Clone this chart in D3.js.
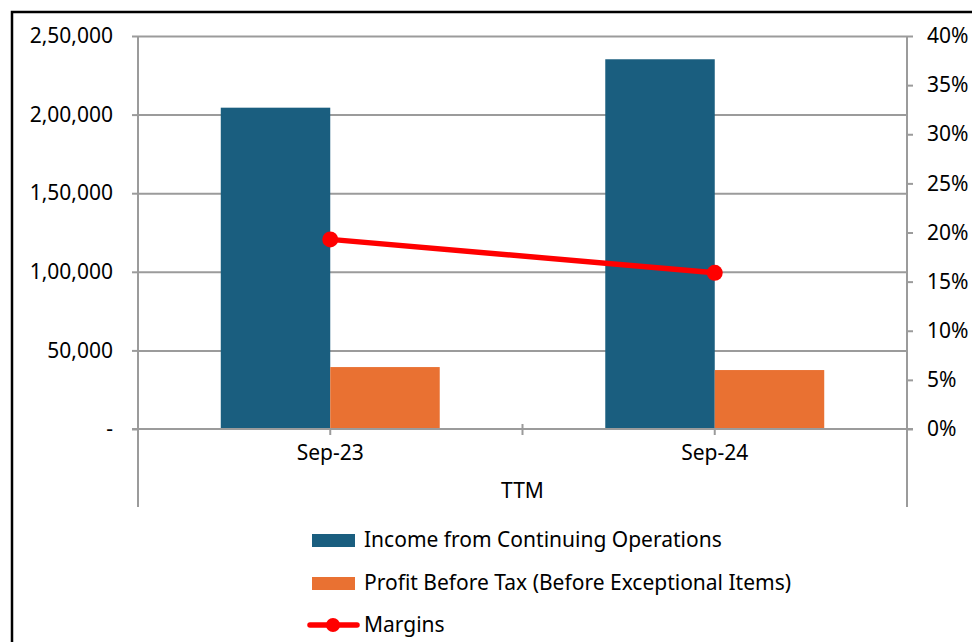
<!DOCTYPE html>
<html>
<head>
<meta charset="utf-8">
<script src="https://cdn.jsdelivr.net/npm/d3@7"></script>
<style>
  body { margin: 0; background: #fff; }
  svg { display: block; }
  .axis text, .lbl { font-family: "Noto Sans", sans-serif; font-size: 21px; fill: #000; }
  .legend text { font-family: "Noto Sans", sans-serif; font-size: 21px; fill: #000; }
</style>
</head>
<body>
<svg id="chart"></svg>
<script>
// data
var categories = ["Sep-23", "Sep-24"];
var income = [204400, 235200];   // Income from Continuing Operations
var pbt = [39400, 37500];        // Profit Before Tax (Before Exceptional Items)
var margins = [0.193, 0.159];    // Margins (right axis)
var seriesNames = ["Income from Continuing Operations", "Profit Before Tax (Before Exceptional Items)", "Margins"];
var leftTicks = [0, 50000, 100000, 150000, 200000, 250000];
var leftTickLabels = ["-", "50,000", "1,00,000", "1,50,000", "2,00,000", "2,50,000"];
var rightTicks = [0, 0.05, 0.10, 0.15, 0.20, 0.25, 0.30, 0.35, 0.40];
var rightTickLabels = ["0%", "5%", "10%", "15%", "20%", "25%", "30%", "35%", "40%"];
var groupLabel = "TTM";

var W = 972, H = 642;
var pLeft = 138, pRight = 907, pTop = 36, pBottom = 429;
var colors = ["#1a5e7f", "#e97132", "#ff0000"];
var gridCol = "#9b9b9b";

var svg = d3.select("#chart").attr("width", W).attr("height", H);

// outer frame (only top & left show)
svg.append("path")
  .attr("d", "M12," + H + "V12H" + W)
  .attr("fill", "none").attr("stroke", "#000").attr("stroke-width", 2.5);

var x = d3.scaleBand().domain(categories).range([pLeft, pRight]);
var xs = d3.scaleBand().domain([0, 1]).range([0, x.bandwidth()]).paddingOuter(0.756);
var yL = d3.scaleLinear().domain([0, 250000]).range([pBottom, pTop]);
var yR = d3.scaleLinear().domain([0, 0.4]).range([pBottom, pTop]);

// gridlines
svg.append("g").attr("transform", "translate(" + pLeft + ",0)")
  .call(d3.axisLeft(yL).tickValues(leftTicks.slice(1)).tickSize(-(pRight - pLeft)).tickFormat(""))
  .call(function(g) { g.select(".domain").remove(); })
  .selectAll("line").attr("stroke", gridCol).attr("stroke-width", 2);

// bars
var barData = [];
categories.forEach(function(c, i) {
  barData.push({ c: c, s: 0, v: income[i] });
  barData.push({ c: c, s: 1, v: pbt[i] });
});
svg.append("g").selectAll("rect").data(barData).enter().append("rect")
  .attr("x", function(d) { return x(d.c) + xs(d.s); })
  .attr("width", xs.bandwidth())
  .attr("y", function(d) { return yL(d.v); })
  .attr("height", function(d) { return yL(0) - yL(d.v); })
  .attr("fill", function(d) { return colors[d.s]; });

// left axis
var gl = svg.append("g").attr("class", "axis").attr("transform", "translate(" + pLeft + ",0)")
  .call(d3.axisLeft(yL).tickValues(leftTicks).tickSize(6).tickPadding(19)
    .tickFormat(function(d, i) { return leftTickLabels[i]; }));
gl.select(".domain").remove();
gl.selectAll("line").attr("stroke", gridCol).attr("stroke-width", 2);
gl.selectAll("text").attr("font-family", null).attr("font-size", null);
svg.append("line").attr("x1", pLeft).attr("x2", pLeft).attr("y1", pTop).attr("y2", 507)
  .attr("stroke", gridCol).attr("stroke-width", 2);

// right axis
var gr = svg.append("g").attr("class", "axis").attr("transform", "translate(" + pRight + ",0)")
  .call(d3.axisRight(yR).tickValues(rightTicks).tickSize(6).tickPadding(14)
    .tickFormat(function(d, i) { return rightTickLabels[i]; }));
gr.select(".domain").remove();
gr.selectAll("line").attr("stroke", gridCol).attr("stroke-width", 2);
svg.append("line").attr("x1", pRight).attr("x2", pRight).attr("y1", pTop).attr("y2", 507)
  .attr("stroke", gridCol).attr("stroke-width", 2);

// category axis
var gx = svg.append("g").attr("class", "axis").attr("transform", "translate(0," + pBottom + ")")
  .call(d3.axisBottom(x).tickSize(6).tickPadding(10).tickSizeOuter(0));
gx.select(".domain").remove();
gx.selectAll("line").attr("stroke", gridCol).attr("stroke-width", 2);
svg.append("line").attr("x1", pLeft - 6).attr("x2", pRight + 6).attr("y1", pBottom).attr("y2", pBottom)
  .attr("stroke", gridCol).attr("stroke-width", 2);
// divider ticks between categories
svg.append("g").selectAll("line").data(categories.slice(1)).enter().append("line")
  .attr("x1", function(d) { return x(d); }).attr("x2", function(d) { return x(d); })
  .attr("y1", pBottom - 5).attr("y2", pBottom + 6)
  .attr("stroke", gridCol).attr("stroke-width", 2);
svg.append("text").attr("class", "lbl")
  .attr("x", (pLeft + pRight) / 2).attr("y", 498)
  .attr("text-anchor", "middle")
  .text(groupLabel);

// margins line
var line = d3.line()
  .x(function(d, i) { return x(categories[i]) + x.bandwidth() / 2; })
  .y(function(d) { return yR(d); });
svg.append("path").datum(margins).attr("d", line)
  .attr("fill", "none").attr("stroke", colors[2]).attr("stroke-width", 5.5);
svg.append("g").selectAll("circle").data(margins).enter().append("circle")
  .attr("cx", function(d, i) { return x(categories[i]) + x.bandwidth() / 2; })
  .attr("cy", function(d) { return yR(d); })
  .attr("r", 8).attr("fill", colors[2]);

// legend
var lg = svg.append("g").attr("class", "legend");
var rows = [547, 590, 632];
seriesNames.forEach(function(n, i) {
  var g = lg.append("g").attr("transform", "translate(0," + rows[i] + ")");
  if (i < 2) {
    g.append("rect").attr("x", 312).attr("y", -13).attr("width", 43).attr("height", 13).attr("fill", colors[i]);
  } else {
    g.append("line").attr("x1", 310).attr("x2", 357).attr("y1", -7).attr("y2", -7)
      .attr("stroke", colors[2]).attr("stroke-width", 5.5).attr("stroke-linecap", "round");
    g.append("circle").attr("cx", 333).attr("cy", -7).attr("r", 7).attr("fill", colors[2]);
  }
  g.append("text").attr("x", 364).attr("y", 0).text(n);
});
</script>
</body>
</html>
